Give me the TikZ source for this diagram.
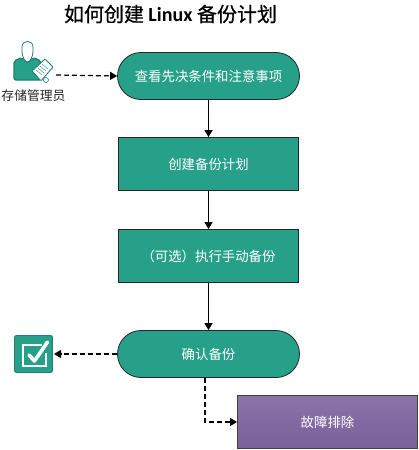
\documentclass[tikz,border=0pt]{standalone}
\usepackage{fontspec}
\setmainfont{Noto Sans CJK SC}
\newfontfamily\titlecjk[FakeBold=0.6]{Noto Sans CJK SC}
\newfontfamily\titlelat[Ligatures=TeX]{Carlito Bold}
\usetikzlibrary{arrows.meta,shapes.misc}
\definecolor{teal1}{HTML}{27A08A}
\definecolor{tealedge}{HTML}{1F7F70}
\definecolor{purpT}{HTML}{8A74A8}
\definecolor{purpB}{HTML}{79609A}
\tikzset{
  x=1pt,y=-1pt,
  lbl/.style={text=white,font=\fontsize{13.4}{15}\selectfont},
  pill/.style={draw=black!85,line width=.8pt,fill=teal1,rounded rectangle,minimum width=182pt,minimum height=47pt,inner sep=0pt,lbl},
  boxx/.style={draw=black!85,line width=.8pt,fill=teal1,minimum width=180pt,minimum height=53pt,inner sep=0pt,lbl},
  purple/.style={draw=black!75,line width=.8pt,top color=purpT,bottom color=purpB,minimum width=180pt,minimum height=53pt,inner sep=0pt,lbl},
  solidarrow/.style={-{Triangle[length=7pt,width=8pt]},line width=1pt,black},
  dasharrow/.style={solidarrow,line width=1.2pt,dash pattern=on 5pt off 3pt},
}
\begin{document}
\begin{tikzpicture}
\useasboundingbox (0,0) rectangle (418,450);
\node[font=\fontsize{20}{24}\selectfont,inner sep=0pt] (title) at (170.5,14) {\titlecjk 如何创建 {\titlelat Linux} 备份计划};
\node[pill] (p1) at (208.5,76) {查看先决条件和注意事项};
\node[boxx] (p2) at (208.5,164) {创建备份计划};
\node[boxx] (p3) at (208.5,256) {（可选）执行手动备份};
\node[pill] (p4) at (208.5,354) {确认备份};
\node[purple] (p5) at (327.5,422) {故障排除};
% admin icon
\coordinate (adminport) at (56,75);
\node[font=\fontsize{12.8}{15}\selectfont,text=black!85,inner sep=0pt] (admin) at (33.5,96) {存储管理员};
\draw[fill=teal1,draw=tealedge,line width=1.3pt,rounded corners=2pt] (14,80) -- (14,61) -- (22,57.5) -- (27.5,63) -- (33,57.5) -- (41,61) -- (41,80) -- cycle;
\draw[fill=white,draw=tealedge,line width=.8pt] (22,47) .. controls (22,39.5) and (33,39.5) .. (33,47) -- (33,51) .. controls (33,57) and (30,62) .. (27.5,62) .. controls (25,62) and (22,57) .. (22,51) -- cycle;
\draw[fill=white,draw=tealedge,line width=.9pt,rounded corners=1pt] (32,71) -- (45,59) -- (53,67) -- (41,81) -- cycle;
\foreach \d in {0,1,2,3}{
  \draw[tealedge!70,line width=.6pt] (36+2*\d,70-2*\d) -- (42+2*\d,75-2*\d);
}
\fill[white,draw=tealedge,line width=.6pt] (46,80) circle (2.5);
% check icon
\node[draw=tealedge,line width=.9pt,fill=teal1,rounded corners=2pt,minimum width=38pt,minimum height=37pt,inner sep=0pt] (check) at (33.5,354) {};
\coordinate (checkport) at (54,354);
\draw[white,line width=1.2pt] (42,345) -- (23,345) -- (23,366) -- (46,366) -- (46,353);
\draw[white,line width=3.6pt,line join=round,line cap=round] (29,355) -- (34.5,361) -- (47.5,342);
% connectors
\draw[dasharrow] (adminport) -- (p1.west);
\draw[solidarrow] (p1.south) -- (p2.north);
\draw[solidarrow] (p2.south) -- (p3.north);
\draw[solidarrow] (p3.south) -- (p4.north);
\draw[dasharrow] (p4.west) -- (checkport);
\draw[dasharrow] ([xshift=-3.5pt]p4.south) |- (p5.west);
\end{tikzpicture}
\end{document}
